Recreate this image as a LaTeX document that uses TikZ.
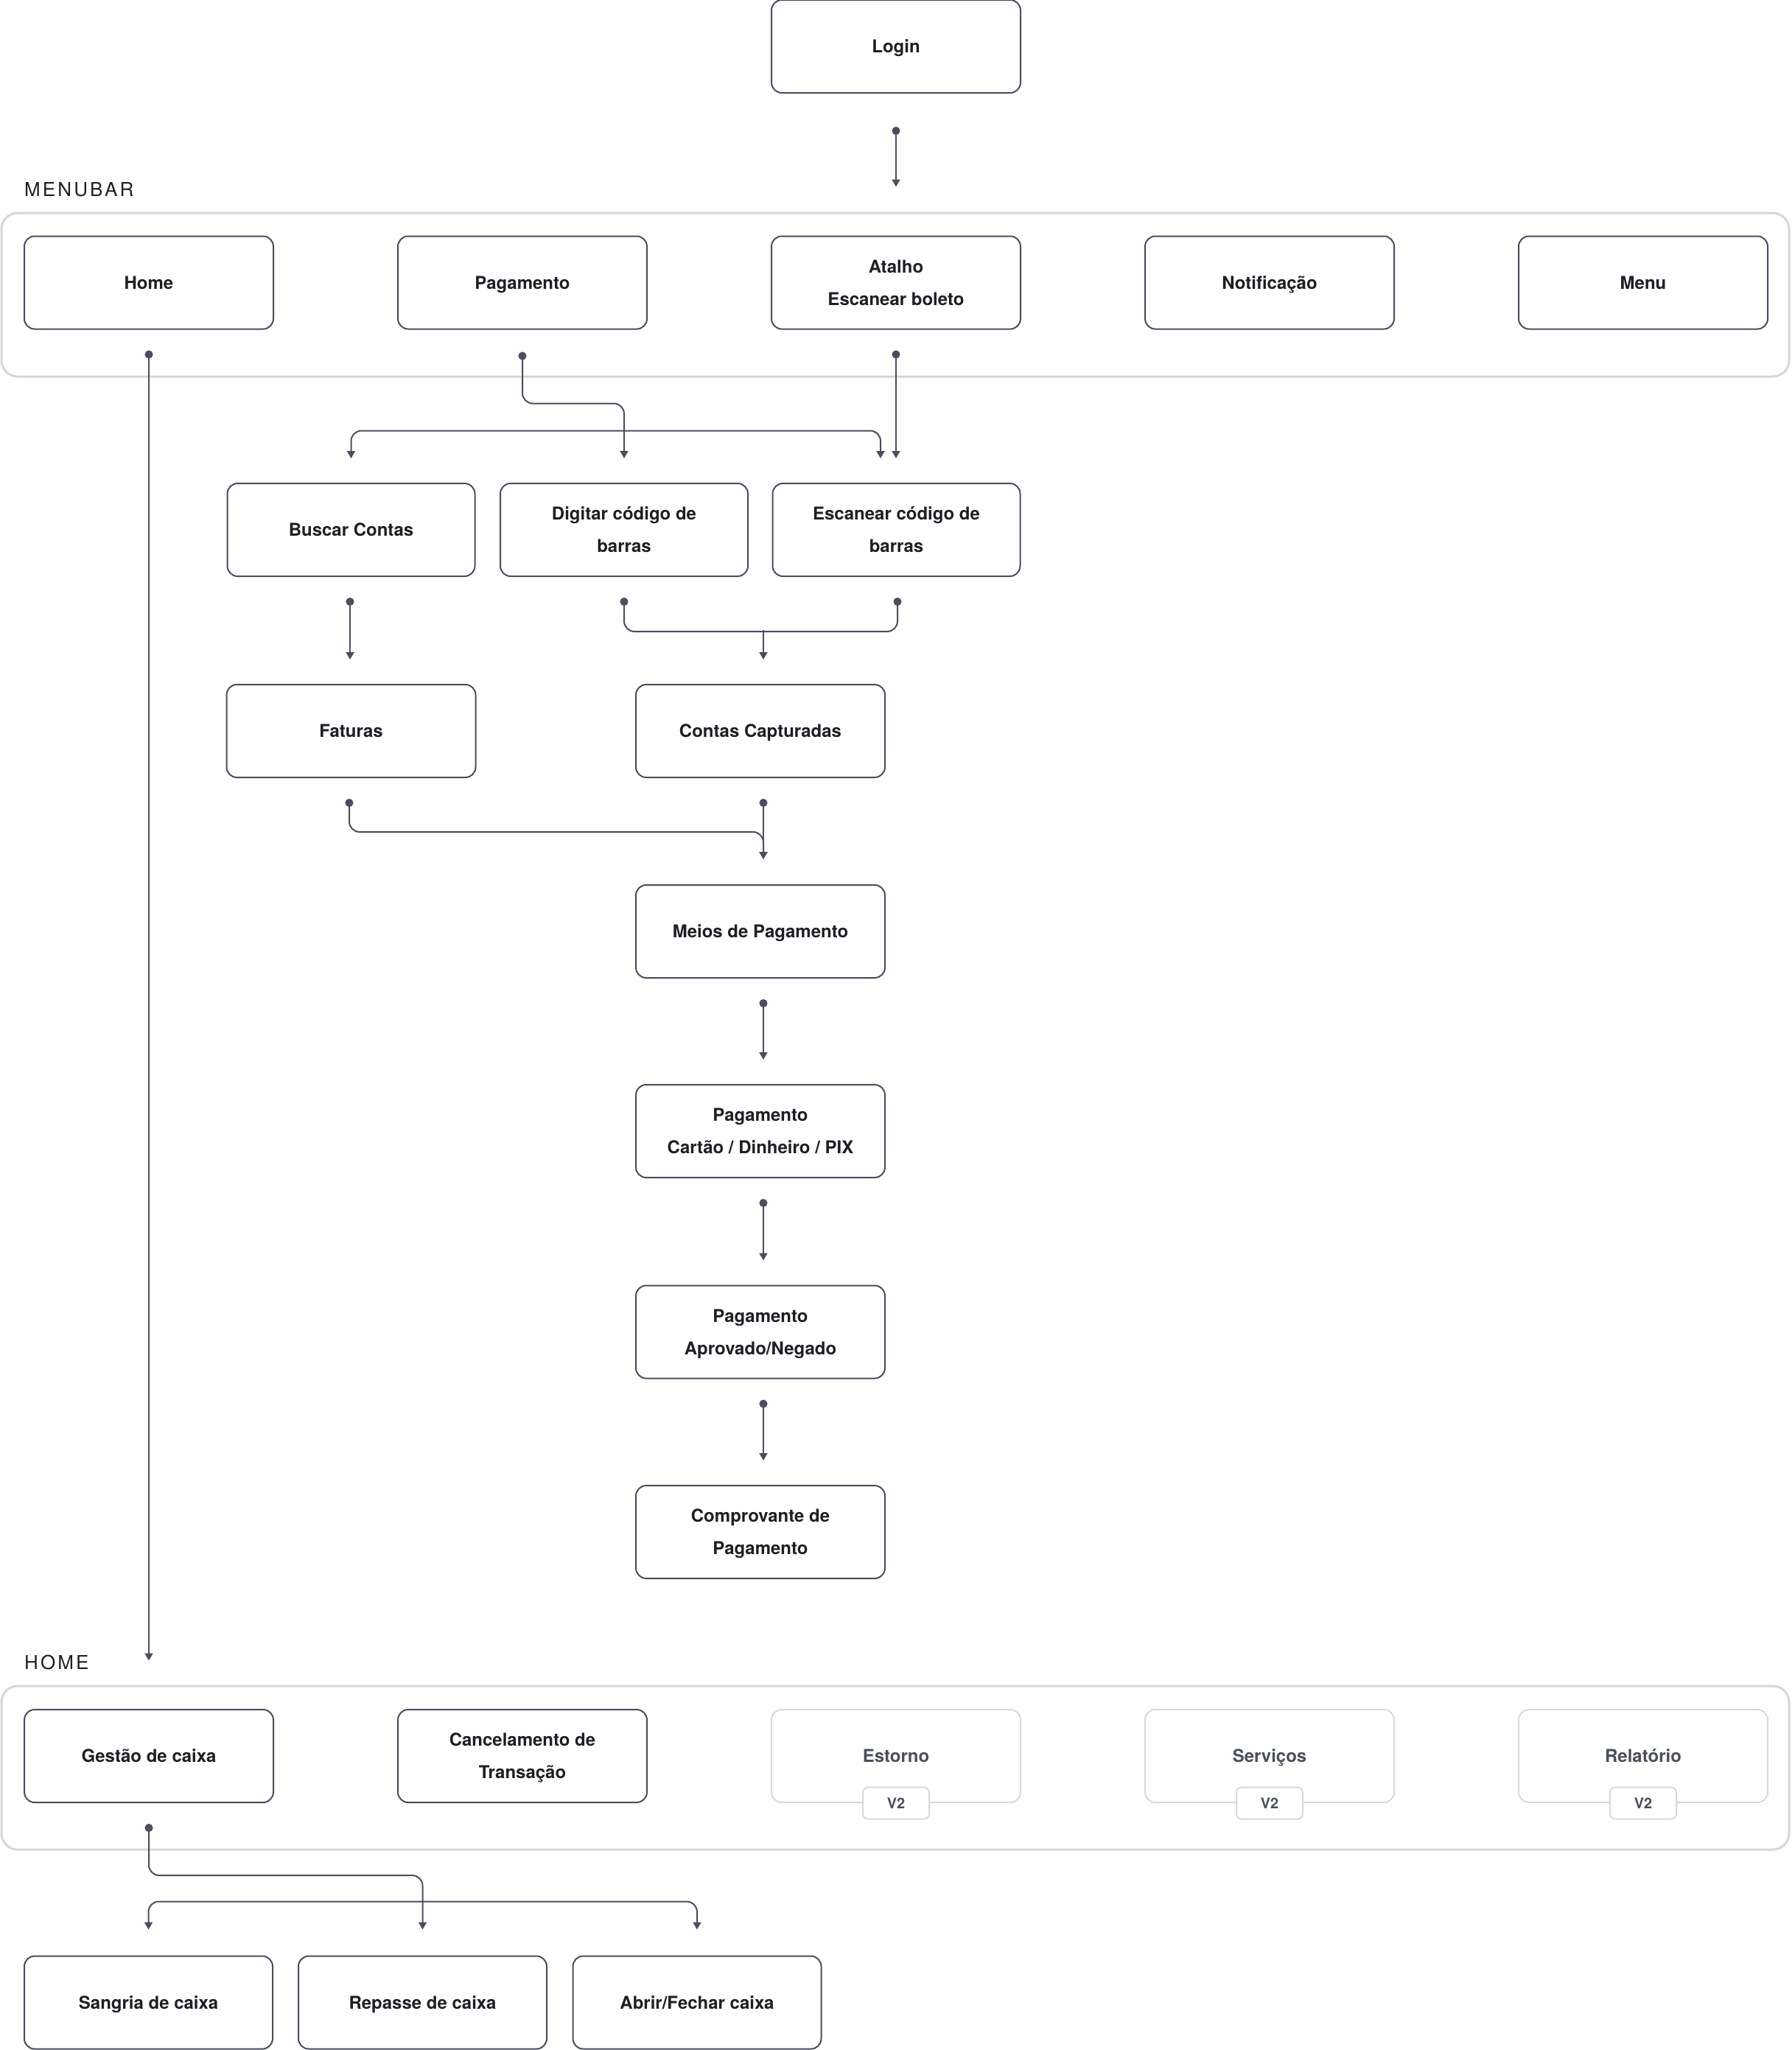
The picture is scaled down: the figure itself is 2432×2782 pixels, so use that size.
\documentclass[tikz,border=0pt]{standalone}
\usepackage{fontspec}
\setmainfont{TeX Gyre Heros}
\usetikzlibrary{arrows.meta,calc}
\definecolor{edge}{HTML}{4A4E5E}
\definecolor{ink}{HTML}{1E1F25}
\definecolor{frame}{HTML}{D6D6D6}
\definecolor{faint}{HTML}{D9D9D9}
\definecolor{muted}{HTML}{4A4E5E}
\newcommand\lnstrut{\rule[-5.4pt]{0pt}{28pt}}
\begin{document}
\begin{tikzpicture}[x=1pt,y=-1pt,
  box/.style={draw=edge, line width=2pt, rounded corners=14pt, minimum width=338pt,
    minimum height=126pt, inner sep=0pt, fill=white, text=ink,
    font=\fontsize{24}{44}\selectfont\bfseries, align=center},
  narrow/.style={box, minimum width=336pt},
  greybox/.style={box, draw=faint, text=muted},
  badge/.style={draw=faint, line width=2pt, rounded corners=7pt, fill=white,
    minimum width=90pt, minimum height=43pt, inner sep=0pt, text=muted,
    font=\fontsize{20}{22}\selectfont\bfseries},
  container/.style={draw=frame, line width=3pt, rounded corners=22pt,
    minimum width=2426pt, minimum height=222pt, inner sep=0pt},
  seclabel/.style={text=ink, inner sep=0pt,
    font=\fontsize{26}{30}\selectfont\addfontfeature{LetterSpace=12}},
  wire/.style={draw=edge, line width=2pt, rounded corners=14pt},
  conn/.style={wire, {Circle[length=11pt,width=11pt]}-{Triangle[length=10pt,width=11pt]}},
  branch/.style={wire, -{Triangle[length=10pt,width=11pt]}},
  dotwire/.style={wire, {Circle[length=11pt,width=11pt]}-{Circle[length=11pt,width=11pt]}},
]
\useasboundingbox (0,0) rectangle (2432,2782);

% containers and labels
\node[container] (mbar) at (1215,400) {};
\node[container] (hbar) at (1215,2399) {};
\node[seclabel, anchor=base west] (mlabel) at (33,266) {MENUBAR};
\node[seclabel, anchor=base west] (hlabel) at (33,2265) {HOME};

% top
\node[box] (login) at (1216,63) {\lnstrut Login};

% menubar
\node[box] (home) at (202,383.5) {\lnstrut Home};
\node[box] (pag) at (709,383.5) {\lnstrut Pagamento};
\node[box] (atalho) at (1216,383.5) {\lnstrut Atalho\\\lnstrut Escanear boleto};
\node[box] (notif) at (1723,383.5) {\lnstrut Notificação};
\node[box] (menu) at (2230,383.5) {\lnstrut Menu};

% payment flow
\node[narrow] (buscar) at (476.5,719) {\lnstrut Buscar Contas};
\node[narrow] (digitar) at (847,719) {\lnstrut Digitar código de\\\lnstrut barras};
\node[narrow] (escanear) at (1216.5,719) {\lnstrut Escanear código de\\\lnstrut barras};
\node[box] (faturas) at (476.5,992) {\lnstrut Faturas};
\node[box] (contas) at (1032,992) {\lnstrut Contas Capturadas};
\node[box] (meios) at (1032,1264) {\lnstrut Meios de Pagamento};
\node[box] (cartao) at (1032,1535) {\lnstrut Pagamento\\\lnstrut Cartão / Dinheiro / PIX};
\node[box] (aprov) at (1032,1807.5) {\lnstrut Pagamento\\\lnstrut Aprovado/Negado};
\node[box] (compr) at (1032,2079) {\lnstrut Comprovante de\\\lnstrut Pagamento};

% home row
\node[box] (gestao) at (202,2383) {\lnstrut Gestão de caixa};
\node[box] (cancel) at (709,2383) {\lnstrut Cancelamento de\\\lnstrut Transação};
\node[greybox] (estorno) at (1216,2383) {\lnstrut Estorno};
\node[greybox] (servicos) at (1723,2383) {\lnstrut Serviços};
\node[greybox] (relat) at (2230,2383) {\lnstrut Relatório};
\node[badge] (b1) at (estorno.south) {V2};
\node[badge] (b2) at (servicos.south) {V2};
\node[badge] (b3) at (relat.south) {V2};

% bottom row
\node[box, minimum width=337pt] (sangria) at (201.5,2717.5) {\lnstrut Sangria de caixa};
\node[box, minimum width=337pt] (repasse) at (573.5,2717.5) {\lnstrut Repasse de caixa};
\node[box, minimum width=337pt] (abrir) at (946,2717.5) {\lnstrut Abrir/Fechar caixa};

% connectors
\draw[conn] ($(login.south)+(0,45)$) -- ($(login.south |- mbar.north)+(0,-34)$);
\draw[conn] ($(home.south)+(0,28)$) -- ($(home.south |- hbar.north)+(0,-33)$);
\draw[conn] ($(pag.south)+(0,30)$) -- ($(pag.south)+(0,100)$) -| ($(digitar.north)+(0,-33)$);
\draw[conn] ($(atalho.south)+(0,28)$) -- ($(escanear.north)+(-0.5,-33)$);
\coordinate (busA) at ($(pag.south)+(0,137)$);
\draw[branch] (busA) -| ($(buscar.north)+(0,-33)$);
\draw[branch] (busA) -| ($(escanear.north)+(-21.5,-33)$);

\draw[conn] ($(buscar.south)+(-1.5,28)$) -- ($(faturas.north)+(-1.5,-33)$);
\draw[dotwire] ($(digitar.south)+(0,28)$) -- ($(digitar.south)+(0,74)$)
   -- ($(escanear.south)+(1.5,74)$) -- ($(escanear.south)+(1.5,28)$);
\coordinate (busB) at ($(contas.north)+(4,-73)$);
\draw[branch] (busB) -- ($(contas.north)+(4,-33)$);

\draw[conn] ($(faturas.south)+(-2.5,28)$) -- ($(faturas.south)+(-2.5,73)$) -| ($(meios.north)+(4,-34)$);
\draw[conn] ($(contas.south)+(4,28)$) -- ($(meios.north)+(4,-34)$);
\draw[conn] ($(meios.south)+(4,28)$) -- ($(cartao.north)+(4,-33)$);
\draw[conn] ($(cartao.south)+(4,28)$) -- ($(aprov.north)+(4,-33)$);
\draw[conn] ($(aprov.south)+(4,28)$) -- ($(compr.north)+(4,-33)$);

\draw[conn] ($(gestao.south)+(0,28)$) -- ($(gestao.south)+(0,98)$) -| ($(repasse.north)+(0,-35)$);
\coordinate (busC) at ($(repasse.north)+(0,-73)$);
\draw[branch] (busC) -| ($(sangria.north)+(0,-35)$);
\draw[branch] (busC) -| ($(abrir.north)+(0,-35)$);
\end{tikzpicture}
\end{document}
